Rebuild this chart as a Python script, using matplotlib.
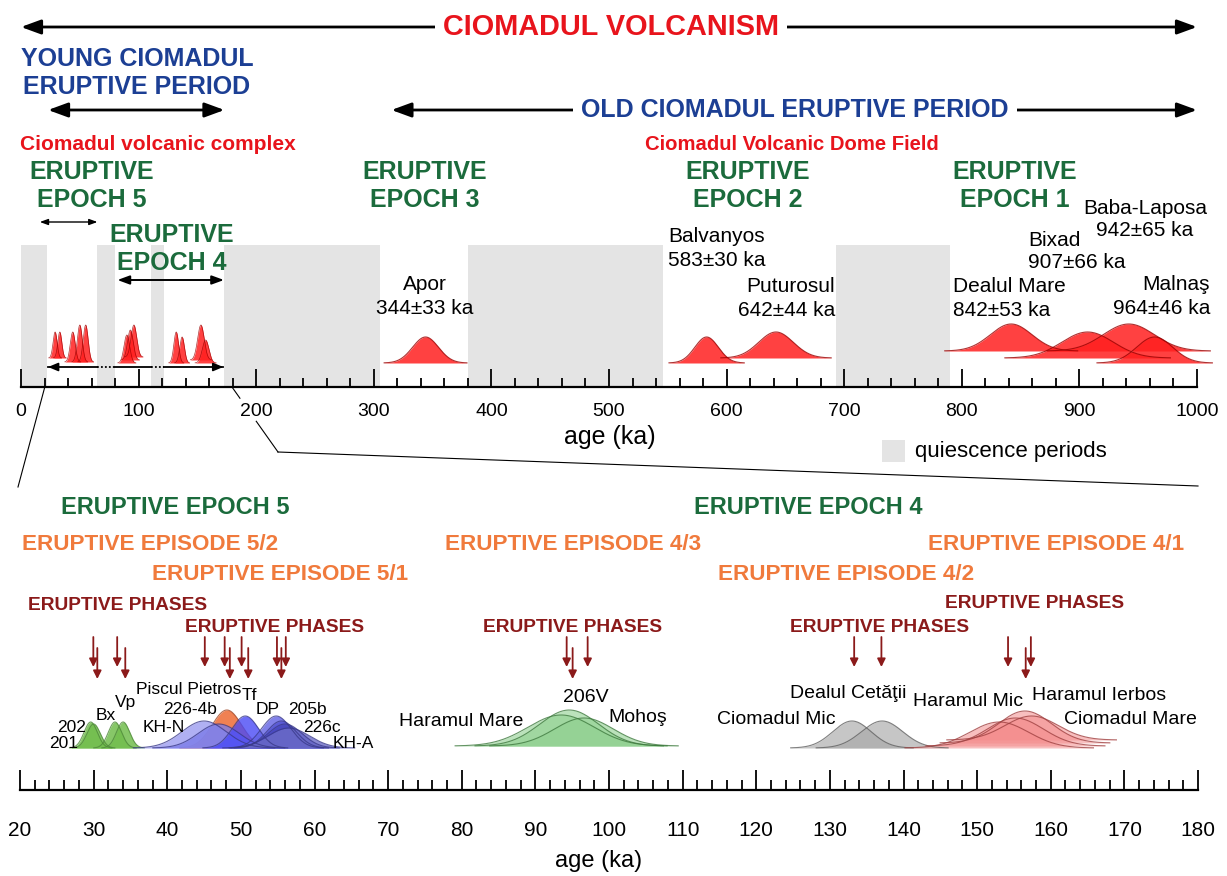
import numpy as np
import matplotlib
matplotlib.use("Agg")
import matplotlib.pyplot as plt
from matplotlib.patches import Rectangle, ArrowStyle

plt.rcParams['font.family'] = ['Liberation Sans', 'DejaVu Sans']

# ---------------------------------------------------------------- data
# quiescence periods (ka)
quiet_start = [0, 65, 110.5, 173, 380, 693]
quiet_end = [22, 80, 121.5, 305, 546, 790]

# Old Ciomadul lava domes: age and uncertainty (ka)
old_names = ["Apor", "Balvanyos", "Puturosul", "Dealul Mare", "Bixad", "Baba-Laposa", "Malnaş"]
old_age = [344, 583, 642, 842, 907, 942, 964]
old_err = [33, 30, 44, 53, 66, 65, 46]
old_base = [24, 24, 29, 36, 29, 36, 24]
old_height = [26, 26, 26, 27, 26, 27, 26]

# Young Ciomadul eruptions on the overview scale
young_age = [29, 33, 44, 50, 55, 90, 93, 96, 132, 137, 153, 157]
young_sigma = [1.7, 1.7, 2.1, 2.1, 2.1, 2.4, 2.4, 2.4, 2.0, 2.0, 2.8, 2.8]
young_base = [29, 29, 25, 25, 25, 24, 27, 30, 24, 24, 27, 24]
young_height = [26, 26, 30, 37, 37, 28, 30, 32, 31, 26, 35, 23]
young_span = [23, 172]

# Epoch 5 - episode 5/2 (green)
g5_names = ["201", "202", "Bx", "Vp"]
g5_age = [29.6, 30.0, 32.9, 34.0]
g5_sigma = [0.9, 0.9, 0.9, 0.9]
g5_height = [26, 24, 26, 26]

# Epoch 5 - episode 5/1 (Piscul Pietros + blue group)
pp_age, pp_sigma, pp_height = 48.1, 2.0, 38
b5_names = ["KH-N", "226-4b", "Tf", "DP", "205b", "226c", "KH-A"]
b5_age = [45.0, 47.0, 50.6, 54.8, 55.5, 56.0, 56.5]
b5_sigma = [3.0, 2.8, 1.8, 2.0, 2.0, 2.3, 2.8]
b5_height = [27, 24, 32, 32, 27, 24, 20]
b5_color = ['#9c9cf0', '#7c7ce8', '#4a4af6', '#6262e4', '#5252d2', '#4646bc', '#6c6cc8']

# Epoch 4 - episode 4/3 (green)
g4_names = ["Haramul Mare", "206V", "Mohoş"]
g4_age = [93.5, 94.6, 96.6]
g4_sigma = [4.5, 4.0, 4.0]
g4_height = [31, 36, 28]

# Epoch 4 - episode 4/2 (grey)
gr_names = ["Ciomadul Mic", "Dealul Cetăţii"]
gr_age = [133.0, 137.1]
gr_sigma = [2.6, 2.8]
gr_height = [27, 27]

# Epoch 4 - episode 4/1 (pink)
pk_names = ["Haramul Mic", "Haramul Ierbos", "Ciomadul Mare", ""]
pk_age = [153.0, 155.2, 156.5, 157.4]
pk_sigma = [4.0, 3.8, 3.6, 3.6]
pk_base = [42, 44, 47, 50]
pk_height = [26, 28, 32, 24]

# eruptive phases (ka)
phase_upper = [29.96, 33.2, 45.1, 47.8, 50.1, 54.9, 56.1, 94.25, 97.1, 133.3, 137.0, 154.2, 157.3]
phase_lower = [30.5, 34.3, 48.5, 51.0, 55.5, 95.06, 156.6]

top_ticks = list(range(0, 1001, 100))
bot_ticks = list(range(20, 181, 10))

# ---------------------------------------------------------------- colours
RED = '#e8141c'
BLUE = '#1c3f94'
GREEN = '#1b6b3c'
ORANGE = '#f07a3c'
DKRED = '#8b1a1a'
QGREY = '#e4e4e4'

W, H = 1227, 876
fig = plt.figure(figsize=(W / 100, H / 100), dpi=100)
fig.patch.set_facecolor('white')

# pixel layout of the two time axes
T_X0, T_X1, T_Y, T_TOP = 21, 1197, 387, 245
B_X0, B_X1, B_Y, B_TOP = 20, 1198, 790, 600


def top_px(ka):
    return T_X0 + (T_X1 - T_X0) * ka / 1000.0


def bot_px(ka):
    return B_X0 + (B_X1 - B_X0) * (ka - 20) / 160.0


ax_top = fig.add_axes([T_X0 / W, (H - T_Y) / H, (T_X1 - T_X0) / W, (T_Y - T_TOP) / H])
ax_bot = fig.add_axes([B_X0 / W, (H - B_Y) / H, (B_X1 - B_X0) / W, (B_Y - B_TOP) / H])
ov = fig.add_axes([0, 0, 1, 1], zorder=5)
ov.set_xlim(0, W)
ov.set_ylim(H, 0)
ov.axis('off')
ov.patch.set_visible(False)


def gauss_hill(ax, mu, sigma, base, height, face, edge, alpha, z, lw=0.8, span=3.2):
    x = np.linspace(mu - span * sigma, mu + span * sigma, 300)
    y = base + height * np.exp(-0.5 * ((x - mu) / sigma) ** 2)
    ax.fill_between(x, base, y, color=face, alpha=alpha, lw=0, zorder=z, clip_on=False)
    ax.plot(x, y, color=edge, lw=lw, zorder=z + 0.1, clip_on=False, alpha=0.8)


def style_axis(ax, xlim, ylim, major, minor_step, maj_len, min_len, lsize, pad):
    ax.set_xlim(*xlim)
    ax.set_ylim(*ylim)
    ax.patch.set_visible(False)
    for s in ['top', 'left', 'right']:
        ax.spines[s].set_visible(False)
    ax.spines['bottom'].set_linewidth(1.6)
    ax.set_yticks([])
    ax.set_xticks(major)
    ax.set_xticks(np.arange(xlim[0], xlim[1] + 0.01, minor_step), minor=True)
    ax.tick_params(axis='x', which='major', direction='in', length=maj_len, width=1.3,
                   labelsize=lsize, pad=pad)
    ax.tick_params(axis='x', which='minor', direction='in', length=min_len, width=1.3)


# ---------------------------------------------------------------- overview axis
style_axis(ax_top, (0, 1000), (0, T_Y - T_TOP), top_ticks, 20, 13, 6.5, 14, 11.5)
for s, e in zip(quiet_start, quiet_end):
    ax_top.axvspan(s, e, color=QGREY, lw=0, zorder=0)

for a, err, b, h in zip(old_age, old_err, old_base, old_height):
    gauss_hill(ax_top, a, err / 3.0, b, h, '#ff1f1f', '#9a0000', 0.85, 2)

for a, sg, b, h in zip(young_age, young_sigma, young_base, young_height):
    gauss_hill(ax_top, a, sg, b, h, '#ff1f1f', '#9a0000', 0.85, 2, lw=0.5)

# span of the young eruptions, dotted across quiet gaps
ay = 20
cur = young_span[0]
for s, e in zip(quiet_start, quiet_end):
    if s > young_span[0] and e < young_span[1]:
        ax_top.plot([cur, s], [ay, ay], color='k', lw=1.3, zorder=3)
        ax_top.plot([s, e], [ay, ay], color='k', lw=1.3, ls=(0, (1, 1.2)), zorder=3)
        cur = e
ax_top.plot([cur, young_span[1]], [ay, ay], color='k', lw=1.3, zorder=3)
for tip, tail in [(young_span[0], young_span[0] + 6), (young_span[1], young_span[1] - 6)]:
    ax_top.annotate('', xy=(tip, ay), xytext=(tail, ay),
                    arrowprops=dict(arrowstyle=ArrowStyle('-|>', head_length=0.6, head_width=0.25),
                                    color='k', lw=1.2, mutation_scale=10, shrinkA=0, shrinkB=0))

# ---------------------------------------------------------------- detailed axis
style_axis(ax_bot, (20, 180), (0, B_Y - B_TOP), bot_ticks, 2, 14.4, 7.2, 15, 22)
BASE = 42

for a, sg, h in zip(g5_age, g5_sigma, g5_height):
    gauss_hill(ax_bot, a, sg, BASE, h, '#72be4e', '#4f8a3a', 0.85, 2)

gauss_hill(ax_bot, pp_age, pp_sigma, BASE, pp_height, '#f07a4a', '#a04a2a', 0.95, 2)
for a, sg, h, c in zip(b5_age, b5_sigma, b5_height, b5_color):
    gauss_hill(ax_bot, a, sg, BASE, h, c, '#3a3a8a', 0.8, 3)

for a, sg, h in zip(g4_age, g4_sigma, g4_height):
    gauss_hill(ax_bot, a, sg, BASE + 2, h, '#8ed08e', '#3e7a3e', 0.6, 2)

for a, sg, h in zip(gr_age, gr_sigma, gr_height):
    gauss_hill(ax_bot, a, sg, BASE, h, '#a8a8a8', '#606060', 0.65, 2)

for a, sg, b, h in zip(pk_age, pk_sigma, pk_base, pk_height):
    gauss_hill(ax_bot, a, sg, b, h, '#f48c8c', '#a04040', 0.55, 2)

arrow_kw = dict(arrowstyle=ArrowStyle('-|>', head_length=0.6, head_width=0.3),
                color=DKRED, lw=1.3, mutation_scale=8, shrinkA=0, shrinkB=0)
for a in phase_upper:
    ax_bot.annotate('', xy=(a, 123), xytext=(a, 153), arrowprops=arrow_kw, annotation_clip=False)
for a in phase_lower:
    ax_bot.annotate('', xy=(a, 111), xytext=(a, 142), arrowprops=arrow_kw, annotation_clip=False)


# ---------------------------------------------------------------- annotations
def T(x, y, s, size, color='black', weight='normal', ha='left', va='center', **kw):
    return ov.text(x, y, s, fontsize=size, color=color, fontweight=weight, ha=ha, va=va, **kw)


def harrow(x0, x1, y, lw, ms, hl=0.6, hw=0.22):
    ov.annotate('', xy=(x1, y), xytext=(x0, y),
                arrowprops=dict(arrowstyle=ArrowStyle('<|-|>', head_length=hl, head_width=hw),
                                color='k', lw=lw, mutation_scale=ms, shrinkA=0, shrinkB=0))


harrow(top_px(0), top_px(1000), 27, 2, 20)
T(611, 27, "CIOMADUL VOLCANISM", 20.8, RED, 'bold', ha='center',
  bbox=dict(facecolor='white', edgecolor='none', pad=6))

T(137, 73, "YOUNG CIOMADUL\nERUPTIVE PERIOD", 18, BLUE, 'bold', ha='center', linespacing=1.2)
harrow(top_px(23), top_px(173), 110, 2, 20)
harrow(top_px(315), top_px(1000), 110, 2, 20)
T(795, 110, "OLD CIOMADUL ERUPTIVE PERIOD", 18, BLUE, 'bold', ha='center',
  bbox=dict(facecolor='white', edgecolor='none', pad=6))

T(20, 145, "Ciomadul volcanic complex", 15, RED, 'bold')
T(792, 145, "Ciomadul Volcanic Dome Field", 14.6, RED, 'bold', ha='center')

for cx, cy, n in [(92, 186, 5), (172, 249, 4), (425, 186, 3), (748, 186, 2), (1015, 186, 1)]:
    T(cx, cy, f"ERUPTIVE\nEPOCH {n}", 18, GREEN, 'bold', ha='center', linespacing=1.25)
harrow(top_px(16), top_px(65), 222, 1, 8)
harrow(top_px(82), top_px(172.6), 280, 1.4, 12)

# dome labels (name line + age line) built from the same ages
lab_pos = [(425, 285, 'center'), (668, 237, 'left'), (835, 287, 'right'), (953, 287, 'left'),
           (1028, 240, 'left'), (1145, 208, 'center'), (1210, 285, 'right')]
for (x, y, ha), nm, a, e in zip(lab_pos, old_names, old_age, old_err):
    T(x, y, nm, 15, 'black', ha=ha)
    T(x, y + 23, f"{a}±{e} ka", 15, 'black', ha=ha)

T(610, 437, "age (ka)", 18, ha='center')
ov.add_patch(Rectangle((882, 440), 23, 22, facecolor=QGREY, edgecolor='none'))
T(915, 451, "quiescence periods", 16)

# zoom connectors between the two axes
ov.plot([top_px(20), B_X0 - 2], [T_Y + 1, 487], color='k', lw=0.8)
p0 = np.array([top_px(180), T_Y + 1])
p1 = np.array([278, 452])
for t0, t1 in [(0, 0.16), (0.52, 1)]:
    a0 = p0 + (p1 - p0) * t0
    a1 = p0 + (p1 - p0) * t1
    ov.plot([a0[0], a1[0]], [a0[1], a1[1]], color='k', lw=0.8)
ov.plot([p1[0], B_X1], [p1[1], 486], color='k', lw=0.8)

# lower panel headers
T(175, 507, "ERUPTIVE EPOCH 5", 17, GREEN, 'bold', ha='center')
T(808, 507, "ERUPTIVE EPOCH 4", 17, GREEN, 'bold', ha='center')
for x, y, s in [(22, 545, "5/2"), (152, 574, "5/1"), (445, 545, "4/3"), (718, 574, "4/2"), (928, 545, "4/1")]:
    T(x, y, f"ERUPTIVE EPISODE {s}", 16.2, ORANGE, 'bold')
for x, y in [(28, 605), (185, 628), (483, 628), (790, 627), (945, 603)]:
    T(x, y, "ERUPTIVE PHASES", 13.8, DKRED, 'bold')

# curve labels
small = [("202", 86, 727, 'right'), ("201", 78, 744, 'right'), ("Bx", 96, 716, 'left'),
         ("Vp", 115, 702, 'left'), ("Piscul Pietros", 136, 689, 'left'), ("226-4b", 163, 710, 'left'),
         ("KH-N", 143, 727, 'left'), ("Tf", 242, 695, 'left'), ("DP", 256, 710, 'left'),
         ("205b", 288, 710, 'left'), ("226c", 303, 727, 'left'), ("KH-A", 333, 744, 'left')]
for s, x, y, ha in small:
    T(x, y, s, 12.5, ha=ha)
big = [("206V", 563, 697, 'left'), ("Haramul Mare", 399, 721, 'left'), ("Mohoş", 608, 718, 'left'),
       ("Dealul Cetăţii", 790, 693, 'left'), ("Ciomadul Mic", 717, 720, 'left'),
       ("Haramul Mic", 913, 702, 'left'), ("Haramul Ierbos", 1032, 695, 'left'),
       ("Ciomadul Mare", 1197, 720, 'right')]
for s, x, y, ha in big:
    T(x, y, s, 14, ha=ha)

T(599, 861, "age (ka)", 17, ha='center')

fig.savefig("out.png", dpi=100, facecolor='white')
